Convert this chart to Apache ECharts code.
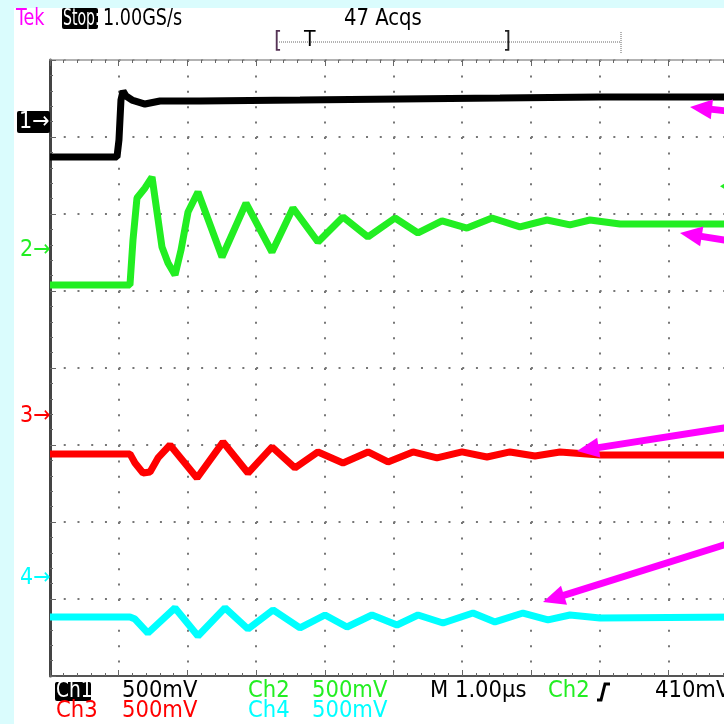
<!DOCTYPE html>
<html>
<head>
<meta charset="utf-8">
<script src="https://cdn.jsdelivr.net/npm/echarts@6/dist/echarts.min.js"></script>
<style>
	html, body { margin: 0; padding: 0; width: 724px; height: 724px; overflow: hidden; }
	#bg { position: absolute; left: 0; top: 0; width: 724px; height: 724px; background: #dafcfd; }
	#panel { position: absolute; left: 14px; top: 8px; width: 710px; height: 716px; background: #ffffff; }
	/* 画布比窗口宽，屏幕右边被裁掉 */
	#chart { position: absolute; left: 0; top: 0; width: 760px; height: 724px; }
</style>
</head>
<body>
<div id="bg"></div>
<div id="panel"></div>
<div id="chart"></div>
<script>
// 时间 (µs) 和 电压 (V)，屏幕 500mV/div，1µs/div
const ch1T = [0, 0.975, 1.004, 1.033, 1.063, 1.106, 1.194, 1.383, 1.601, 2.183, 3.639, 5.095, 6.55, 8.006, 10]
const ch1V = [1.37, 1.37, 1.481, 1.74, 1.799, 1.766, 1.74, 1.714, 1.734, 1.734, 1.74, 1.747, 1.753, 1.76, 1.76]

const ch2T = [0, 1.164, 1.208, 1.266, 1.383, 1.485, 1.543, 1.63, 1.718, 1.82, 1.907, 2.009, 2.154, 2.504, 2.853, 3.231, 3.537, 3.901, 4.265, 4.629, 5.022, 5.357, 5.706, 6.07, 6.434, 6.841, 7.234, 7.569, 7.86, 8.297, 10]
const ch2V = [0.539, 0.539, 0.831, 1.104, 1.169, 1.24, 1.058, 0.786, 0.682, 0.604, 0.766, 1.013, 1.143, 0.721, 1.071, 0.753, 1.039, 0.818, 0.981, 0.851, 0.974, 0.877, 0.955, 0.909, 0.974, 0.916, 0.961, 0.929, 0.961, 0.935, 0.935]

const ch3T = [0, 1.164, 1.237, 1.354, 1.456, 1.572, 1.747, 2.14, 2.518, 2.882, 3.231, 3.566, 3.901, 4.265, 4.629, 4.92, 5.284, 5.633, 5.997, 6.361, 6.696, 7.06, 7.424, 8.006, 10]
const ch3V = [-0.558, -0.558, -0.617, -0.682, -0.675, -0.584, -0.5, -0.714, -0.481, -0.682, -0.513, -0.649, -0.545, -0.617, -0.545, -0.61, -0.545, -0.584, -0.545, -0.578, -0.545, -0.571, -0.545, -0.565, -0.565]

const ch4T = [0, 1.164, 1.237, 1.426, 1.82, 2.154, 2.547, 2.882, 3.246, 3.639, 4.003, 4.323, 4.687, 5.051, 5.357, 5.721, 6.157, 6.477, 6.885, 7.249, 7.569, 8.006, 10]
const ch4V = [-1.617, -1.617, -1.63, -1.721, -1.558, -1.74, -1.558, -1.695, -1.571, -1.688, -1.604, -1.682, -1.604, -1.669, -1.604, -1.656, -1.591, -1.649, -1.591, -1.636, -1.604, -1.623, -1.617]

// 通道标记的位置 (V)
const chLabels = ["1", "2", "3", "4"]
const chLevels = [1.597, 0.766, -0.312, -1.364]
const chColors = ["#000000", "#22ee22", "#ff0000", "#00ffff"]
const trigLevel = 1.18

// 品红色箭头: [尖端 t, 尖端 V, 尾部 t, 尾部 V]
const arrows = [
	[9.316, 1.695, 10.04, 1.66],
	[9.17, 0.877, 10.04, 0.815],
	[7.671, -0.539, 10.04, -0.373],
	[7.176, -1.519, 10.04, -1.117],
]

const FONT = '"DejaVu Sans Condensed","DejaVu Sans",sans-serif'

function pairs(t, v) {
	return t.map((x, i) => [x, v[i]])
}

const myChart = echarts.init(document.getElementById("chart"))

let option = {
	animation: false,
	backgroundColor: "transparent",
	// 10 格 x 8 格
	grid: { left: 50, top: 60, width: 687, height: 616 },
	xAxis: [
		{
			type: "value", min: 0, max: 10, interval: 1, position: "bottom",
			axisLine: { show: true, onZero: false, lineStyle: { color: "#555", width: 2 } },
			axisTick: { show: true, inside: true, length: 6, lineStyle: { color: "#666" } },
			minorTick: { show: true, splitNumber: 5, length: 3, lineStyle: { color: "#666" } },
			axisLabel: { show: false },
			splitLine: { show: true, lineStyle: { color: "#777", width: 2, type: [2, 13.4] } },
		},
		{
			type: "value", min: 0, max: 10, interval: 1, position: "top",
			axisLine: { show: true, onZero: false, lineStyle: { color: "#999", width: 1.5 } },
			axisTick: { show: true, inside: true, length: 6, lineStyle: { color: "#666" } },
			minorTick: { show: true, splitNumber: 5, length: 3, lineStyle: { color: "#666" } },
			axisLabel: { show: false },
			splitLine: { show: false },
		},
	],
	yAxis: {
		type: "value", min: -2, max: 2, interval: 0.5,
		axisLine: { show: true, onZero: false, lineStyle: { color: "#444", width: 3 } },
		axisTick: { show: true, inside: true, length: 6, lineStyle: { color: "#666" } },
		minorTick: { show: true, splitNumber: 5, length: 3, lineStyle: { color: "#666" } },
		axisLabel: { show: false },
		splitLine: { show: true, lineStyle: { color: "#777", width: 2, type: [2, 11.74] } },
	},
	series: [
		{ name: "Ch1", type: "line", data: pairs(ch1T, ch1V), showSymbol: false, lineStyle: { color: chColors[0], width: 7 } },
		{ name: "Ch2", type: "line", data: pairs(ch2T, ch2V), showSymbol: false, lineStyle: { color: chColors[1], width: 7 } },
		{ name: "Ch3", type: "line", data: pairs(ch3T, ch3V), showSymbol: false, lineStyle: { color: chColors[2], width: 7 } },
		{ name: "Ch4", type: "line", data: pairs(ch4T, ch4V), showSymbol: false, lineStyle: { color: chColors[3], width: 7 } },
	],
}
myChart.setOption(option)

// 文字和箭头
function txt(s, x, y, color, size, sx) {
	return {
		type: "text", z: 100, x: x, y: y, scaleX: sx || 1,
		style: { text: s, x: 0, y: 0, fill: color, font: size + "px " + FONT, textVerticalAlign: "middle" },
	}
}
function box(x, y, w, h) {
	return { type: "rect", z: 99, shape: { x: x, y: y, width: w, height: h, r: 2 }, style: { fill: "#000" } }
}

let g = []
// 顶部
g.push(txt("Tek", 16, 19, "#ff00ff", 23, 0.85))
g.push(box(62, 8, 36, 21))
g.push(txt("Stop:", 63, 19, "#fff", 23, 0.68))
g.push(txt("1.00GS/s", 103, 19, "#000", 23, 0.85))
g.push(txt("47 Acqs", 344, 19, "#000", 23, 0.95))
g.push({ type: "line", z: 100, shape: { x1: 279, y1: 42, x2: 621, y2: 42 }, style: { stroke: "#666", lineWidth: 1, lineDash: [1, 1] } })
g.push({ type: "line", z: 100, shape: { x1: 621, y1: 32, x2: 621, y2: 53 }, style: { stroke: "#666", lineWidth: 1, lineDash: [1, 1] } })
g.push(txt("[", 274, 42, "#553355", 23))
g.push(txt("T", 304, 41, "#000", 21))
g.push(txt("]", 503, 42, "#222", 23))

// 底部
g.push(box(55, 682, 36, 19))
g.push(txt("Ch1", 56, 691, "#fff", 23, 0.9))
g.push(txt("500mV", 122, 691, "#000", 23.5))
g.push(txt("Ch2", 248, 691, chColors[1], 23.5))
g.push(txt("500mV", 312, 691, chColors[1], 23.5))
g.push(txt("M 1.00µs", 430, 691, "#000", 23.5))
g.push(txt("Ch2", 548, 691, chColors[1], 23.5))
g.push({ type: "polyline", z: 100, shape: { points: [[597, 700], [601, 700], [605, 684], [610, 684]] }, style: { stroke: "#000", lineWidth: 3, fill: null } })
g.push(txt("410mV", 655, 691, "#000", 23.5))
g.push(txt("Ch3", 56, 711, chColors[2], 23.5))
g.push(txt("500mV", 122, 711, chColors[2], 23.5))
g.push(txt("Ch4", 248, 711, chColors[3], 23.5))
g.push(txt("500mV", 312, 711, chColors[3], 23.5))

// 通道标记
chLevels.forEach((lv, i) => {
	let y = myChart.convertToPixel({ yAxisIndex: 0 }, lv)
	if (i == 0) {
		g.push(box(17, y - 11, 33, 22))
		g.push(txt("1→", 19, y, "#fff", 23))
	} else {
		g.push(txt(chLabels[i] + "→", 20, y, chColors[i], 23))
	}
})

// 触发电平标记 (右边缘)
let ty = myChart.convertToPixel({ yAxisIndex: 0 }, trigLevel)
g.push({ type: "polygon", z: 100, shape: { points: [[720, ty], [728, ty - 5], [728, ty + 5]] }, style: { fill: chColors[1] } })

// 箭头
arrows.forEach((a) => {
	let tip = myChart.convertToPixel({ gridIndex: 0 }, [a[0], a[1]])
	let tail = myChart.convertToPixel({ gridIndex: 0 }, [a[2], a[3]])
	let dx = tail[0] - tip[0], dy = tail[1] - tip[1]
	let len = Math.sqrt(dx * dx + dy * dy)
	let ux = dx / len, uy = dy / len
	let hl = 22, hw = 10
	let bx = tip[0] + ux * hl, by = tip[1] + uy * hl
	g.push({ type: "line", z: 101, shape: { x1: bx - ux * 2, y1: by - uy * 2, x2: tail[0], y2: tail[1] }, style: { stroke: "#ff00ff", lineWidth: 7 } })
	g.push({
		type: "polygon", z: 101,
		shape: { points: [[tip[0], tip[1]], [bx - uy * hw, by + ux * hw], [bx + uy * hw, by - ux * hw]] },
		style: { fill: "#ff00ff" },
	})
})

myChart.setOption({ graphic: g })
</script>
</body>
</html>
